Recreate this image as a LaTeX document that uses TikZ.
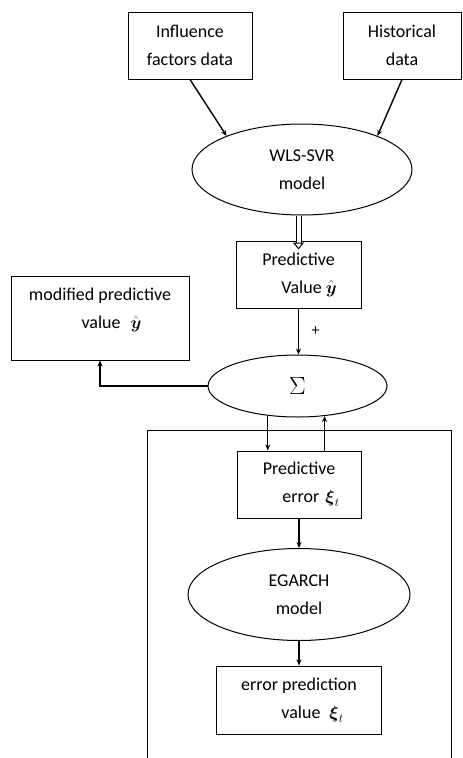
\documentclass[tikz,border=0pt]{standalone}
\usepackage{amsmath,amssymb}
\usepackage{fontspec}
\setmainfont{Carlito}
\usepackage{tikz}
\usetikzlibrary{shapes,arrows,arrows.meta,positioning,fit,calc}

\begin{document}
\begin{tikzpicture}[
    x=1pt, y=-1pt,
    box/.style={rectangle, draw, line width=1pt, inner sep=0pt, align=center, font=\fontsize{18}{28}\selectfont},
    oval/.style={ellipse, draw, line width=1pt, inner sep=0pt, align=center, font=\fontsize{18}{28}\selectfont},
    arrow/.style={-{Stealth[length=6pt,width=5pt]}, line width=1.4pt},
    hollow/.style={double, double distance=4pt, line width=1pt, -{Triangle[open, length=7pt, width=11pt]}}
]
    \useasboundingbox (0,0) rectangle (463,758);

    % Inputs
    \node[box, minimum width=124pt, minimum height=67pt] (infl) at (190,45.5) {Influence\\factors data};
    \node[box, minimum width=118pt, minimum height=67pt] (hist) at (402,45.5) {Historical\\data};

    % WLS-SVR
    \node[oval, minimum width=220pt, minimum height=91pt] (wls) at (302,169.5) {WLS-SVR\\model};
    \node[box, minimum width=125pt, minimum height=67pt, below=25pt of wls, xshift=-3.5pt] (pv)
        {Predictive\\\hspace*{21pt}Value $\hat{\boldsymbol{y}}$};

    % Sum
    \node[oval, minimum width=179pt, minimum height=62pt, below=46pt of pv, xshift=-1pt, font=\fontsize{31}{31}\selectfont] (sum) {$\Sigma$};
    \node[box, minimum width=178pt, minimum height=84pt, text depth=19pt] (mod) at (100,318)
        {modified predictive\\\hspace*{23pt}value\hspace{10pt}$\hat{\boldsymbol{y}}$};

    % Error correction (EGARCH)
    \node[box, minimum width=124pt, minimum height=67pt, below=33pt of sum, xshift=1.5pt] (perr)
        {Predictive\\\hspace*{24pt}error\hspace{6pt}$\boldsymbol{\xi}_t$};
    \node[oval, minimum width=222pt, minimum height=92pt, below=29.5pt of perr] (egarch) {EGARCH\\model};
    \node[box, minimum width=165pt, minimum height=68pt, below=24.5pt of egarch] (epv)
        {error prediction\\\hspace*{27pt}value\hspace{9pt}$\boldsymbol{\xi}_t$};

    % Frame
    \draw[line width=1pt] (147,758) |- (451,430) -- (451,758);

    % Arrows
    \draw[arrow] (infl.south) -- (wls.156);
    \draw[arrow] (hist.south) -- (wls.24);
    \draw[hollow] (wls.south -| pv.north) -- ([yshift=-9pt]pv.north);
    \draw[arrow] (pv.south) -- node[right=9pt] {\fontsize{16}{16}\selectfont +} (sum.north -| pv.south);
    \draw[arrow] (sum.west) -| (mod.south);
    \draw[arrow] (sum.225) -- (sum.225 |- perr.north);
    \draw[arrow] (sum.312 |- perr.north) -- (sum.312);
    \draw[arrow] (perr.south) -- (egarch.north);
    \draw[arrow] (egarch.south) -- (epv.north);
\end{tikzpicture}
\end{document}
